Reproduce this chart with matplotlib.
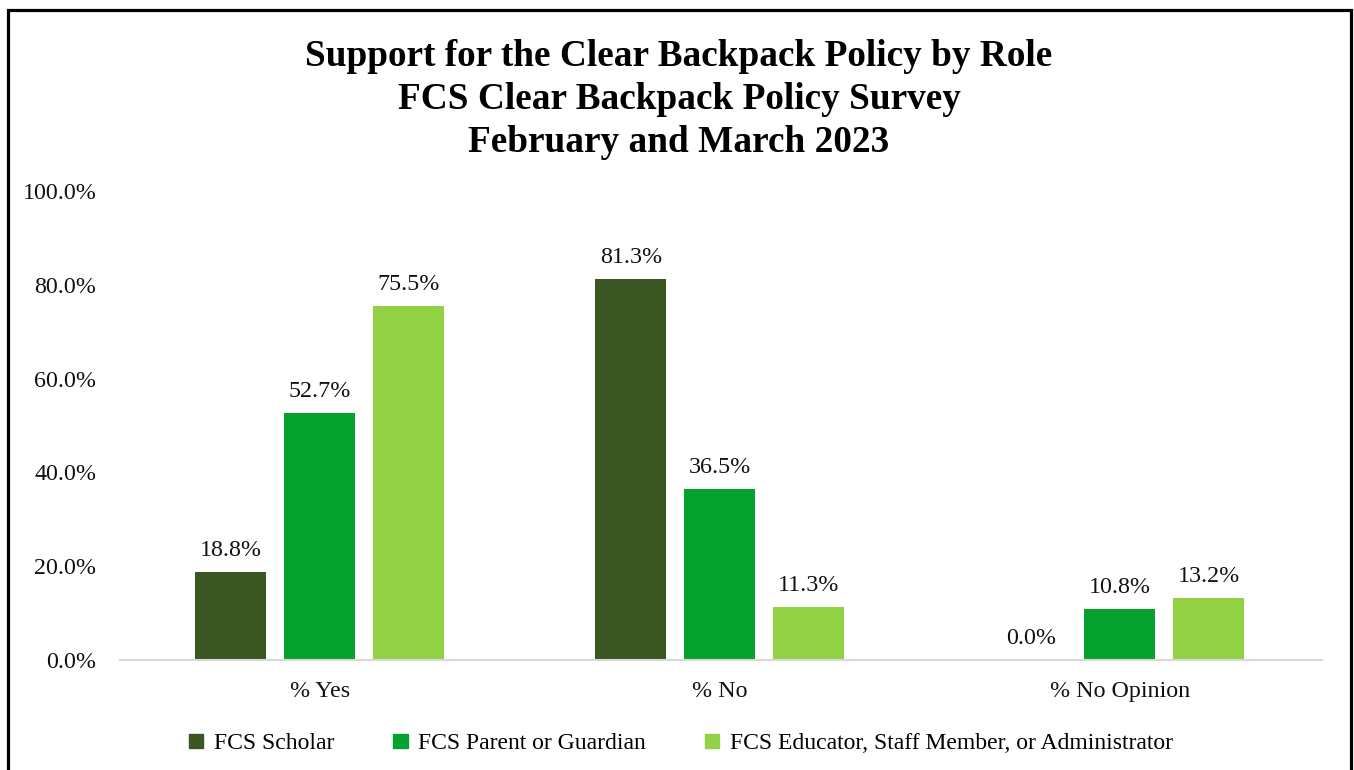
import matplotlib.pyplot as plt
from matplotlib.patches import Patch, Rectangle
import numpy as np

# data
categories = ['% Yes', '% No', '% No Opinion']
roles = ['FCS Scholar', 'FCS Parent or Guardian',
         'FCS Educator, Staff Member, or Administrator']
scholar = [18.8, 81.3, 0.0]
parent = [52.7, 36.5, 10.8]
educator = [75.5, 11.3, 13.2]
colors = ['#3A5723', '#05A22F', '#92D143']
yticks = [0, 20, 40, 60, 80, 100]

plt.rcParams['font.family'] = ['Liberation Serif', 'DejaVu Serif']

fig = plt.figure(figsize=(13.54, 7.7), dpi=100)
ax = fig.add_axes([0.0886, 0.1429, 0.8877, 0.609])

x = np.arange(len(categories))
width = 0.1775
step = 0.2225
series = [scholar, parent, educator]
for i, vals in enumerate(series):
    pos = x + (i - 1) * step
    ax.bar(pos, vals, width, color=colors[i], label=roles[i])
    for px, v in zip(pos, vals):
        ax.annotate('%.1f%%' % v, (px, v), xytext=(0, 11.5),
                    textcoords='offset points', ha='center', va='baseline',
                    fontsize=17.3, color='#111111')

ax.set_xlim(-0.5, 2.505)
ax.set_ylim(0, 100)
ax.set_yticks(yticks)
ax.set_yticklabels(['%.1f%%' % t for t in yticks])
ax.set_xticks(x)
ax.set_xticklabels(categories)
ax.tick_params(axis='y', length=0, pad=17, labelsize=17.3, colors='#111111')
ax.tick_params(axis='x', length=0, pad=15, labelsize=17.3, colors='#111111')
for s in ['top', 'right', 'left']:
    ax.spines[s].set_visible(False)
ax.spines['bottom'].set_color('#d9d9d9')
ax.spines['bottom'].set_linewidth(1.5)

fig.text(0.5015, 0.871, 'Support for the Clear Backpack Policy by Role\n'
         'FCS Clear Backpack Policy Survey\nFebruary and March 2023',
         ha='center', va='center', fontsize=26.8, fontweight='bold',
         linespacing=1.29)

handles = [Patch(color=c) for c in colors]
fig.legend(handles, roles, loc='center', bbox_to_anchor=(0.503, 0.034),
           ncol=3, frameon=False, fontsize=17, handlelength=0.6,
           handleheight=0.6, handletextpad=0.45, columnspacing=2.5)

# outer chart border (bottom edge falls outside the picture)
fig.patches.append(Rectangle((0.0059, -0.05), 0.9919, 1.037,
                             transform=fig.transFigure, fill=False,
                             edgecolor='black', linewidth=2.3))

fig.savefig('out.png', dpi=100)
